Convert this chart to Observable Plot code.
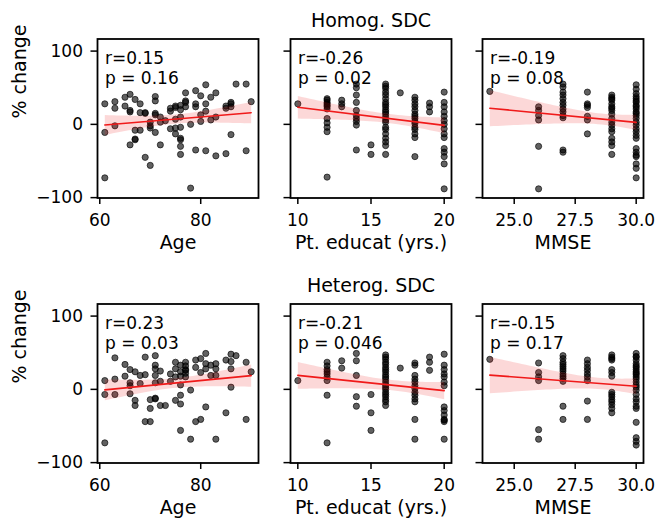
<!DOCTYPE html>
<html><head><meta charset="utf-8">
<script src="https://cdn.jsdelivr.net/npm/d3@7"></script>
<script src="https://cdn.jsdelivr.net/npm/@observablehq/plot@0.6"></script>
<style>
body{margin:0;background:#fff;}
#fig{position:relative;width:659px;height:521px;background:#fff;font-family:"DejaVu Sans",sans-serif;}
#fig svg{position:absolute;}
</style></head><body><div id="fig"></div>
<script>
// ---- texts ----
const rowTitles = ["Homog. SDC", "Heterog. SDC"];
const xLabels = ["Age", "Pt. educat (yrs.)", "MMSE"];
const yLabel = "% change";
const xTicks = [[60, 80], [10, 15, 20], [25, 27.5, 30]];
const xTickLabels = [["60", "80"], ["10", "15", "20"], ["25.0", "27.5", "30.0"]];
const yTicks = [-100, 0, 100];
const yTickLabels = ["\u2212100", "0", "100"];
const annotations = [
  ["r=0.15\np = 0.16", "r=-0.26\np = 0.02", "r=-0.19\np = 0.08"],
  ["r=0.23\np = 0.03", "r=-0.21\np = 0.046", "r=-0.15\np = 0.17"]
];

// ---- Homog. SDC ----
const homogAge = [61,61,61,63,63,63,65,65,66,66,66,66,67,67,67,67,68,68,68,69,69,69,70,70,70,70,71,71,71,71,71,72,72,72,73,74,74,74,75,75,75,75,75,76,76,76,76,76,76,76,76,77,77,77,77,78,78,79,79,79,79,80,80,80,81,81,81,81,82,82,83,83,83,85,85,85,86,86,86,86,87,89,89,90];
const homogAgeChange = [28,-11,-73,31,22,-2,37,25,41,19,17,-28,34,-8,-20,-21,28,16,-8,15,16,-45,3,-2,-5,-56,38,32,15,13,-11,10,3,-28,5,18,22,-6,25,23,-5,-13,7,26,20,10,-4,-19,-21,-30,-41,43,32,30,24,0,-87,46,28,24,-35,39,13,4,54,28,18,-36,37,6,43,10,-43,25,22,-40,30,28,24,-14,55,55,-36,31];

const homogEduLevels = [10, 12, 13, 14, 15, 16, 17, 18, 19, 20];
const homogEduChange = [
  [28],
  [35,33,30,28,26,24,21,8,2,-4,-10,-72],
  [33,28,24],
  [55,50,40,30,19,12,8,4,-1,-35],
  [-28,-41],
  [55,52,49,44,40,35,30,27,24,20,17,14,10,6,3,-4,-7,-13,-19,-24,-29,-41],
  [43],
  [37,33,28,24,19,14,11,8,4,1,-4,-7,-13,-18,-44],
  [29,24,17],
  [44,30,24,17,11,5,0,-6,-13,-18,-33,-38,-44,-54,-88]
];

const homogMmseLevels = [24, 26, 27, 28, 29, 30];
const homogMmseChange = [
  [45],
  [24,19,12,6,-30,-88],
  [55,51,44,40,35,30,26,21,17,12,9,-35,-38],
  [44,28,26,23,11,6,-13],
  [40,37,35,33,28,24,22,19,14,8,3,-1,-6,-10,-19,-24,-29,-41],
  [54,48,42,38,35,32,30,26,24,21,17,15,12,8,3,-1,-6,-10,-15,-19,-33,-38,-42,-44,-54,-60,-73]
];

// ---- Heterog. SDC ----
const heterogAge = [61,61,61,63,63,63,65,65,66,66,66,66,67,67,67,68,68,69,69,69,70,70,70,71,71,71,71,71,71,71,72,72,72,73,74,74,75,75,75,75,76,76,76,76,76,76,76,77,77,77,77,77,77,78,78,79,79,79,80,80,80,81,81,81,81,82,82,83,83,83,83,85,85,86,86,86,86,87,89,89,90];
const heterogAgeChange = [12,-7,-73,43,14,-7,34,18,27,9,5,-6,24,-15,-22,19,8,44,20,-44,-14,-26,-44,46,33,28,19,9,-13,-12,25,11,-22,-22,21,11,37,28,17,-15,33,24,18,6,-8,-20,-56,37,32,27,26,22,17,-1,-68,40,30,-44,42,23,-41,49,35,28,-24,33,19,35,28,19,-68,40,-32,48,38,28,3,46,37,-41,24];

const heterogEduLevels = [10, 12, 13, 14, 15, 16, 17, 18, 19, 20];
const heterogEduChange = [
  [12],
  [37,32,27,24,21,17,12,-8,-73],
  [39,29],
  [49,39,19,-10,-23],
  [-7,-32,-56],
  [47,44,41,37,34,30,27,24,20,17,14,10,6,3,0,-4,-7,-10,-14,-17,-22],
  [29],
  [36,33,19,14,10,5,1,-4,-8,-13,-17,-41,-68],
  [44,37,26],
  [48,33,27,21,17,10,5,-24,-29,-35,-41,-42,-44,-68]
];

const heterogMmseLevels = [24, 26, 27, 28, 29, 30];
const heterogMmseChange = [
  [41],
  [36,23,17,12,-55,-68],
  [46,42,37,34,31,28,25,21,18,15,11,-23,-41],
  [40,35,30,26,21,17,12,-16,-41],
  [47,44,42,40,27,23,18,-4,-7,-10,-14,-17,-21,-26,-32],
  [49,45,44,40,35,32,30,27,24,22,20,17,14,10,6,3,-1,-7,-13,-17,-23,-26,-45,-66,-71,-76]
];

// ---- build tables ----
const pairs = (xs, ys) => xs.map((x, i) => ({x, y: ys[i]}));
const grouped = (levels, groups) => levels.flatMap((x, i) => groups[i].map(y => ({x, y})));
const panels = [
  [pairs(homogAge, homogAgeChange), grouped(homogEduLevels, homogEduChange), grouped(homogMmseLevels, homogMmseChange)],
  [pairs(heterogAge, heterogAgeChange), grouped(heterogEduLevels, heterogEduChange), grouped(heterogMmseLevels, heterogMmseChange)]
];

// ---- layout ----
const frameLeft = [97, 289.5, 482];
const frameW = 161;
const frameTop = [38.5, 303.2];
const frameH = 159;
const yDomain = [-100.5, 116.5];
const xDomains = [[59.55, 91.45], [9.5, 20.5], [23.7, 30.3]];

const fig = document.getElementById("fig");
for (let r = 0; r < 2; r++) {
  for (let c = 0; c < 3; c++) {
    const ml = c === 0 ? frameLeft[0] : 25;
    const mr = 15, mt = 38.5, mb = 70;
    const data = panels[r][c];
    const xFmt = new Map(xTicks[c].map((t, i) => [t, xTickLabels[c][i]]));
    const yFmt = new Map(yTicks.map((t, i) => [t, yTickLabels[i]]));
    const marks = [
      Plot.dot(data, {x: "x", y: "y", r: 3.1, fill: "black", fillOpacity: 0.62, stroke: "black", strokeOpacity: 0.62, strokeWidth: 1}),
      Plot.linearRegressionY(data, {x: "x", y: "y", stroke: "#f01a1a", fill: "#f01a1a", fillOpacity: 0.17, strokeWidth: 1.6}),
      Plot.axisX({ticks: xTicks[c], tickFormat: d => xFmt.get(d), tickSize: 6.5, tickPadding: 9, label: null, strokeWidth: 1.5}),
      Plot.axisY({ticks: yTicks, tickFormat: d => (c === 0 ? yFmt.get(d) : ""), tickSize: 6.5, tickPadding: 8, label: null, strokeWidth: 1.5}),
      Plot.frame({stroke: "black", strokeWidth: 1.8}),
      Plot.text([annotations[r][c]], {text: d => d, frameAnchor: "top-left", dx: 7.5, dy: 11.5, lineAnchor: "top", lineHeight: 1.15, textAnchor: "start", fontSize: 17, fill: "black"}),
      Plot.text([xLabels[c]], {text: d => d, frameAnchor: "bottom", lineAnchor: "middle", dy: 45.4, fontSize: 19, fill: "black"})
    ];
    if (c === 0) marks.push(Plot.text([yLabel], {text: d => d, frameAnchor: "left", lineAnchor: "middle", dx: -77.6, rotate: -90, fontSize: 19, fill: "black"}));
    if (c === 1) marks.push(Plot.text([rowTitles[r]], {text: d => d, frameAnchor: "top", lineAnchor: "middle", dy: -17.6, fontSize: 19, fill: "black"}));
    const svg = Plot.plot({
      width: ml + frameW + mr,
      height: mt + frameH + mb,
      marginLeft: ml, marginRight: mr, marginTop: mt, marginBottom: mb,
      style: {background: "transparent", overflow: "visible", fontFamily: "DejaVu Sans", fontSize: "17px", color: "black"},
      x: {domain: xDomains[c], label: null},
      y: {domain: yDomain, label: null},
      marks
    });
    svg.style.left = (frameLeft[c] - ml) + "px";
    svg.style.top = (frameTop[r] - mt) + "px";
    fig.appendChild(svg);
  }
}
</script></body></html>
